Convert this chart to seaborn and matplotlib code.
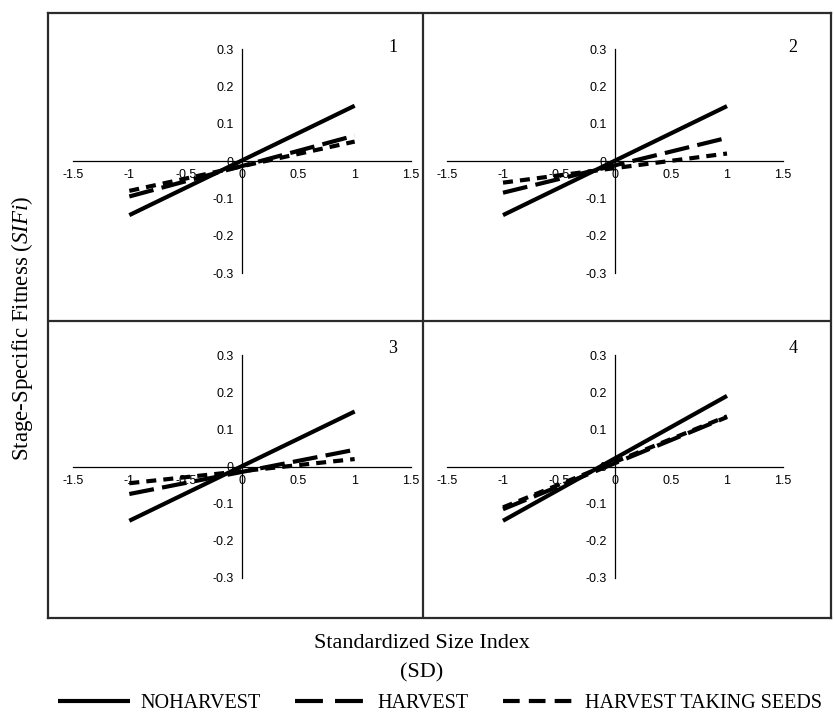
import numpy as np
import pandas as pd
import matplotlib
matplotlib.use("Agg")
import matplotlib.pyplot as plt
from matplotlib.lines import Line2D
import seaborn as sns

# data (values at x = -1 and x = 1)
x_points = [-1, 1]
treatments = ['NOHARVEST', 'HARVEST', 'HARVEST TAKING SEEDS']
panel_names = ['1', '2', '3', '4']

noharvest = [[-0.145, 0.148], [-0.145, 0.147], [-0.146, 0.148], [-0.146, 0.190]]
harvest = [[-0.095, 0.068], [-0.085, 0.062], [-0.074, 0.045], [-0.115, 0.133]]
harvest_seeds = [[-0.080, 0.052], [-0.058, 0.020], [-0.045, 0.020], [-0.110, 0.135]]

x_ticks = [-1.5, -1, -0.5, 0, 0.5, 1, 1.5]
x_tick_labels = ['-1.5', '-1', '-0.5', '0', '0.5', '1', '1.5']
y_ticks = [-0.3, -0.2, -0.1, 0, 0.1, 0.2, 0.3]
y_tick_labels = ['-0.3', '-0.2', '-0.1', '0', '0.1', '0.2', '0.3']

sns.set_style('white')
plt.rcParams['font.family'] = ['Liberation Serif', 'DejaVu Serif']
plt.rcParams['text.color'] = 'black'
plt.rcParams['mathtext.fontset'] = 'custom'
plt.rcParams['mathtext.rm'] = 'Liberation Serif'
plt.rcParams['mathtext.it'] = 'Liberation Serif:italic'

W, H = 834, 714
fig = plt.figure(figsize=(W / 100, H / 100), dpi=100)

def fx(px):
    return px / W

def fy(py):
    return 1 - py / H

# outer frame with the two dividers
fl, fr, ft, fb = 48, 831, 13, 618
bg = fig.add_axes([fx(fl), fy(fb), fx(fr - fl), (fb - ft) / H])
bg.set_xlim(0, 1)
bg.set_ylim(0, 1)
bg.set_xticks([])
bg.set_yticks([])
for s in bg.spines.values():
    s.set_linewidth(1.6)
    s.set_color('#2b2b2b')
bg.axvline((423 - fl) / (fr - fl), color='#2b2b2b', lw=1.6)
bg.axhline((fb - 321) / (fb - ft), color='#2b2b2b', lw=1.6)

# inner axes boxes in pixels: (left, right, top, bottom)
boxes = [(73, 411, 49, 273), (447, 783, 49, 273),
         (73, 411, 355, 578), (447, 783, 355, 578)]
num_pos = [(393, 47), (793, 47), (393, 348), (793, 348)]

dash_map = {'NOHARVEST': '', 'HARVEST': (6, 2), 'HARVEST TAKING SEEDS': (2.4, 1.7)}

for i, (l, r, t, b) in enumerate(boxes):
    ax = fig.add_axes([fx(l), fy(b), fx(r - l), (b - t) / H])
    ax.patch.set_alpha(0)
    rows = []
    for name, series in zip(treatments, [noharvest, harvest, harvest_seeds]):
        for xv, yv in zip(x_points, series[i]):
            rows.append({'x': xv, 'y': yv, 'treatment': name})
    df = pd.DataFrame(rows)
    sns.lineplot(data=df, x='x', y='y', style='treatment', dashes=dash_map,
                 style_order=treatments, color='black', lw=3, legend=False,
                 ax=ax, sort=False)
    for ln in ax.get_lines():
        ln.set_solid_capstyle('butt')
        ln.set_dash_capstyle('butt')
    ax.set_xlim(-1.5, 1.5)
    ax.set_ylim(-0.3, 0.3)
    ax.spines['left'].set_position(('data', 0))
    ax.spines['bottom'].set_position(('data', 0))
    ax.spines['top'].set_visible(False)
    ax.spines['right'].set_visible(False)
    for s in ['left', 'bottom']:
        ax.spines[s].set_linewidth(0.9)
        ax.spines[s].set_color('black')
    ax.set_xticks(x_ticks)
    ax.set_xticklabels(x_tick_labels)
    ax.set_yticks(y_ticks)
    ax.set_yticklabels(y_tick_labels)
    ax.tick_params(axis='both', direction='out', length=3, width=0.8,
                   labelsize=9, pad=3, colors='black')
    for lab in ax.get_xticklabels() + ax.get_yticklabels():
        lab.set_family('Liberation Sans')
    ax.set_xlabel('')
    ax.set_ylabel('')
    fig.text(fx(num_pos[i][0]), fy(num_pos[i][1]), panel_names[i],
             ha='center', va='center', fontsize=13)

fig.text(fx(22), fy(328), r'Stage-Specific Fitness ($\mathit{SIFi}$)',
         rotation=90, ha='center', va='center', fontsize=16.5)
fig.text(fx(422), fy(644), 'Standardized Size Index', ha='center', va='center', fontsize=16)
fig.text(fx(422), fy(673), '(SD)', ha='center', va='center', fontsize=16)

handles = [Line2D([], [], color='black', lw=3, solid_capstyle='butt'),
           Line2D([], [], color='black', lw=3, dashes=(6.7, 2.9), dash_capstyle='butt'),
           Line2D([], [], color='black', lw=3, dashes=(4, 2.2), dash_capstyle='butt')]
fig.legend(handles, treatments, loc='center', bbox_to_anchor=(fx(440), fy(703)),
           ncol=3, frameon=False, fontsize=14.5, handlelength=3.6,
           handletextpad=0.5, columnspacing=1.7, borderaxespad=0)

fig.savefig('out.png', dpi=100)
